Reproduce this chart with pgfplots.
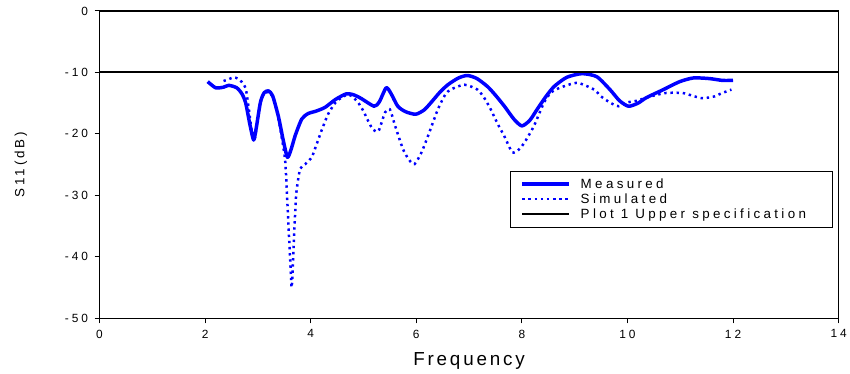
\documentclass[border=0pt]{standalone}
\usepackage{pgfplots}
\pgfplotsset{compat=1.18}
\usepackage{fontspec}
\setmainfont{Liberation Sans}
\newfontfamily\tickfont[LetterSpace=25]{Liberation Sans}
\newfontfamily\legfont[LetterSpace=25]{Liberation Sans}
\newfontfamily\labfont[LetterSpace=15]{Liberation Sans}
\newfontfamily\ylabfont[LetterSpace=21]{Liberation Sans}
\definecolor{pblue}{RGB}{0,0,255}
\begin{document}
\begin{tikzpicture}
\begin{axis}[
 scale only axis, width=743bp, height=309bp,
 xmin=0, xmax=14, ymin=-50, ymax=0,
 xtick={0,2,...,14}, xticklabels={0,2,4,6,8,10,12,14},
 ytick={-50,-40,...,0}, yticklabels={-50,-40,-30,-20,-10,0},
 tick align=outside, xtick pos=bottom, ytick pos=left,
 major tick length=5bp,
 tick style={black, line width=0.9bp},
 axis line style={black, line width=1.2bp},
 ticklabel style={font=\tickfont\fontsize{12}{13}\selectfont},
 yticklabel style={xshift=-3bp},
 xticklabel style={yshift=-3bp},
 xlabel={Frequency}, ylabel={S11(dB)},
 xlabel style={font=\labfont\fontsize{19}{21}\selectfont, at={(axis description cs:0.5,-0.139)}, anchor=center},
 ylabel style={font=\ylabfont\fontsize{13.5}{15}\selectfont, at={(axis description cs:-0.1063,0.5)}, anchor=center},
 legend style={at={(axis cs:7.78,-26.05)}, anchor=north west, draw=black, line width=0.8bp,
   font=\legfont\fontsize{13.5}{15}\selectfont, row sep=2bp, inner xsep=10bp, inner ysep=6bp,
   nodes={inner ysep=1bp},
   /tikz/every odd column/.append style={column sep=8bp}},
 legend cell align=left,
 legend image code/.code={\draw[#1] (0bp,0bp) -- (47bp,0bp);},
]
\addplot[pblue, line width=3.5bp, smooth, tension=0.4, line join=round] coordinates {
(2.05,-11.5) (2.2,-12.5) (2.35,-12.4) (2.45,-12.1) (2.6,-12.5) (2.7,-13.5) (2.77,-15.0) (2.85,-18.5) (2.92,-21.0) (2.97,-19) (3.05,-14.8) (3.12,-13.3) (3.2,-13.0) (3.28,-13.8) (3.39,-17.2) (3.48,-21) (3.56,-23.8) (3.63,-22.5) (3.71,-20.2) (3.83,-17.6) (3.95,-16.7) (4.1,-16.3) (4.27,-15.7) (4.47,-14.4) (4.67,-13.5) (4.8,-13.6) (4.95,-14.2) (5.2,-15.5) (5.3,-14.8) (5.43,-12.5) (5.52,-13.4) (5.65,-15.5) (5.8,-16.4) (5.99,-16.8) (6.15,-16.1) (6.28,-14.9) (6.45,-13.2) (6.6,-12) (6.8,-10.9) (6.97,-10.5) (7.15,-11) (7.35,-12.3) (7.5,-13.7) (7.67,-15.5) (7.85,-17.6) (8.0,-18.7) (8.15,-17.8) (8.29,-16) (8.45,-14) (8.61,-12.3) (8.85,-10.8) (9.14,-10.2) (9.42,-10.7) (9.67,-12.8) (9.85,-14.6) (10.02,-15.5) (10.2,-15.0) (10.36,-14.1) (10.68,-12.8) (10.99,-11.5) (11.25,-10.9) (11.55,-11.0) (11.8,-11.3) (12.0,-11.3)
};
\addlegendentry{Measured}
\addplot[pblue, line width=2.5bp, dash pattern=on 2.4bp off 3.8bp, smooth, tension=0.4] coordinates {
(2.35,-11.4) (2.45,-11.1) (2.54,-10.8) (2.62,-11.0) (2.7,-11.6) (2.77,-12.6) (2.83,-16) (2.9,-20.5) (2.95,-20.5) (3.02,-16) (3.1,-13.6) (3.2,-13.2) (3.3,-14.3) (3.4,-18) (3.48,-22) (3.52,-24.6) (3.55,-29.5) (3.58,-35) (3.61,-40) (3.64,-45) (3.67,-40) (3.7,-34) (3.73,-29.5) (3.8,-25.7) (3.9,-24.9) (4.02,-23.8) (4.1,-22) (4.2,-19.6) (4.33,-16.8) (4.47,-14.9) (4.6,-14) (4.71,-13.6) (4.8,-14) (4.9,-14.9) (5.0,-16.3) (5.09,-17.9) (5.18,-19.3) (5.28,-19.6) (5.35,-18) (5.41,-16.5) (5.5,-16) (5.6,-18.7) (5.75,-22.5) (5.87,-24.3) (5.97,-24.9) (6.1,-23) (6.22,-20.4) (6.41,-16) (6.55,-13.6) (6.65,-12.8) (6.91,-12) (7.16,-12.8) (7.3,-14.3) (7.41,-16) (7.55,-18.5) (7.67,-20.4) (7.82,-23) (7.95,-22.5) (8.05,-21.4) (8.23,-18.7) (8.42,-14.9) (8.55,-13.3) (8.72,-12.5) (9.05,-11.7) (9.37,-12.8) (9.5,-13.9) (9.67,-14.9) (9.83,-15.5) (9.99,-14.9) (10.18,-14.6) (10.36,-14.1) (10.68,-13.4) (10.9,-13.3) (11.08,-13.4) (11.27,-13.9) (11.43,-14.2) (11.65,-13.9) (11.78,-13.4) (11.97,-12.8)
};
\addlegendentry{Simulated}
\addplot[black, line width=2bp] coordinates {(0,-10) (14,-10)};
\addlegendentry{Plot 1 Upper specification\hspace*{14bp}}
\end{axis}
\path ([xshift=-100bp,yshift=-55bp]current axis.south west) rectangle ([xshift=8bp,yshift=11bp]current axis.north east);
\end{tikzpicture}
\end{document}
